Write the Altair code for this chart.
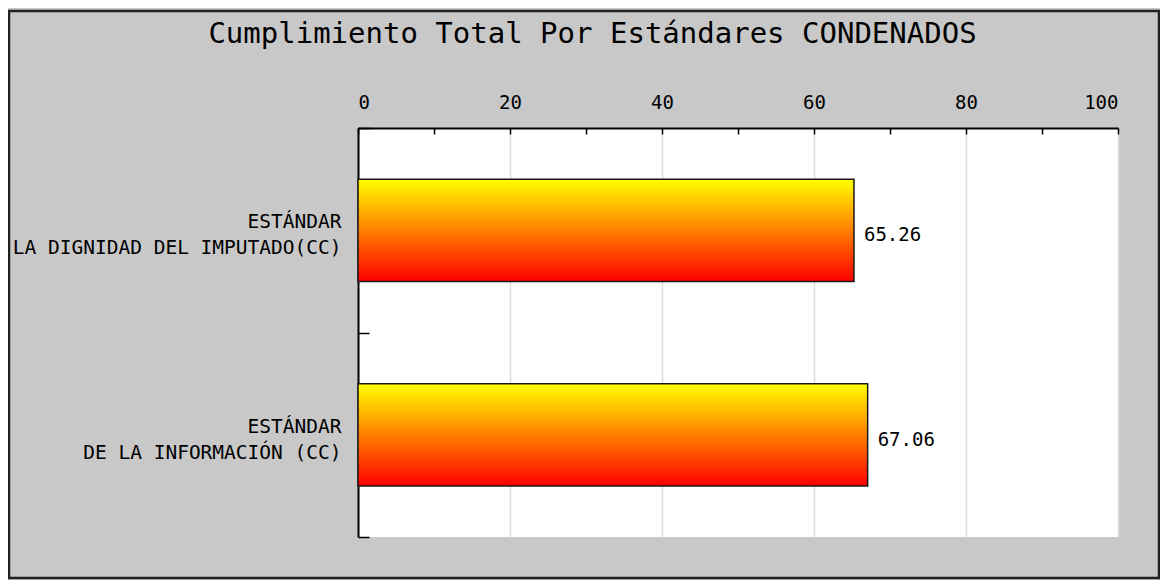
import altair as alt
import pandas as pd

categories = [
    "ESTÁNDAR\nLA DIGNIDAD DEL IMPUTADO(CC)\u00a0",
    "ESTÁNDAR\nDE LA INFORMACIÓN (CC)",
]
values = [65.26, 67.06]
major_ticks = [0, 20, 40, 60, 80, 100]
minor_ticks = [0, 10, 20, 30, 40, 50, 60, 70, 80, 90, 100]
title_text = ["Cumplimiento Total Por Estándares CONDENADOS"]

df = pd.DataFrame({"estandar": categories, "valor": values})
df_title = pd.DataFrame({"titulo": title_text})

FONT = "DejaVu Sans Mono"

y_scale = alt.Scale(paddingInner=0, paddingOuter=0)
x_scale = alt.Scale(domain=[0, 100], nice=False)

gradient = alt.Gradient(
    gradient="linear",
    stops=[
        alt.GradientStop(color="#ffff00", offset=0),
        alt.GradientStop(color="#ff0000", offset=1),
    ],
    x1=0, x2=0, y1=0, y2=1,
)

bars = alt.Chart(df).mark_bar(
    fill=gradient, stroke="#1a1a1a", strokeWidth=1.5,
    height=alt.RelativeBandSize(band=0.5),
).encode(
    x=alt.X(
        "valor:Q", scale=x_scale,
        axis=alt.Axis(
            orient="top", values=major_ticks, title=None, ticks=False, tickSize=0,
            labelPadding=16, labelFont=FONT, labelFontSize=19, labelColor="#000",
            labelAngle=0, domain=True, domainColor="#000", domainWidth=2,
            grid=True, gridColor="#dddddd", gridWidth=1.5,
        ),
    ),
    y=alt.Y(
        "estandar:N", sort=categories, scale=y_scale,
        axis=alt.Axis(
            orient="left", title=None, ticks=False, tickSize=0, labelPadding=17,
            labelFont=FONT, labelFontSize=19.5, labelColor="#000",
            labelExpr="split(datum.label, '\\n')", labelLineHeight=26,
            labelLimit=800, labelAlign="right", labelBaseline="middle", labelOffset=-8,
            domain=True, domainColor="#000", domainWidth=2, grid=False,
        ),
    ),
)

labels = alt.Chart(df).mark_text(
    align="left", baseline="middle", dx=10, dy=5, font=FONT, fontSize=19, color="#000"
).encode(
    x=alt.X(
        "valor:Q", scale=x_scale,
        axis=alt.Axis(
            orient="top", values=minor_ticks, title=None, labels=False, domain=False,
            grid=False, ticks=True, tickSize=6, tickColor="#000", tickWidth=1.5, offset=-6,
        ),
    ),
    y=alt.Y(
        "estandar:N", sort=categories, scale=y_scale,
        axis=alt.Axis(
            orient="left", title=None, labels=False, domain=False, grid=False,
            ticks=True, tickBand="extent", tickSize=11, tickColor="#000",
            tickWidth=1.5, offset=-11,
        ),
    ),
    text=alt.Text("valor:Q", format=".2f"),
)

title = alt.Chart(df_title).mark_text(
    align="center", baseline="alphabetic", font=FONT, fontSize=29, color="#000"
).encode(
    text="titulo:N", x=alt.value(234.5), y=alt.value(-85)
)

frame = alt.Chart(df_title).mark_rect(
    fillOpacity=0, stroke="#222222", strokeWidth=2.5
).encode(
    x=alt.value(-349), x2=alt.value(801), y=alt.value(-117), y2=alt.value(450)
)

chart = alt.layer(bars, labels, title, frame).resolve_axis(
    x="independent", y="independent"
).properties(
    width=760,
    height=409,
    padding={"left": 350, "top": 120, "right": 42, "bottom": 43},
    autosize=alt.AutoSizeParams(type="none"),
    background="#c8c8c8",
).configure_view(fill="white", strokeWidth=0)

chart.save("out.html", embed_options={"renderer": "svg", "actions": False})
